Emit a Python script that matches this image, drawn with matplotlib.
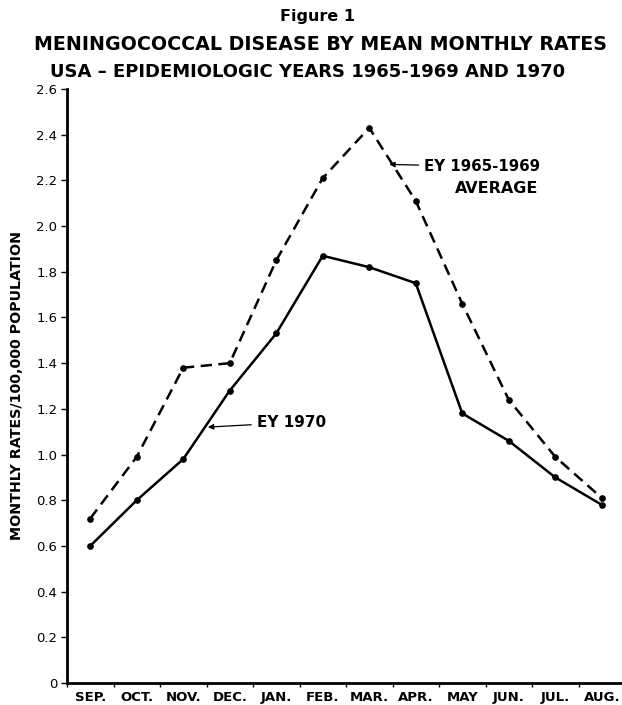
import matplotlib
matplotlib.use("Agg")
import matplotlib.pyplot as plt
import numpy as np

months = ["SEP.", "OCT.", "NOV.", "DEC.", "JAN.", "FEB.", "MAR.", "APR.", "MAY", "JUN.", "JUL.", "AUG."]
avg_1965_1969 = [0.72, 0.99, 1.38, 1.40, 1.85, 2.21, 2.43, 2.11, 1.66, 1.24, 0.99, 0.81]
ey_1970 = [0.60, 0.80, 0.98, 1.28, 1.53, 1.87, 1.82, 1.75, 1.18, 1.06, 0.90, 0.78]
yticks = [0, 0.2, 0.4, 0.6, 0.8, 1.0, 1.2, 1.4, 1.6, 1.8, 2.0, 2.2, 2.4, 2.6]
ytick_labels = ["0", "0.2", "0.4", "0.6", "0.8", "1.0", "1.2", "1.4", "1.6", "1.8", "2.0", "2.2", "2.4", "2.6"]

W, H = 622, 705
fig = plt.figure(figsize=(W/100, H/100), dpi=100)
ax = fig.add_axes([67/W, 1-683/H, (625-67)/W, (683-89)/H])

x = np.arange(len(months)) + 0.5
ax.plot(x, avg_1965_1969, color="black", lw=1.8, linestyle=(0, (4.5, 2.6)),
        marker="o", markersize=3.8)
ax.plot(x, ey_1970, color="black", lw=1.8, marker="o", markersize=3.8)

ax.set_xlim(0, 12)
ax.set_ylim(0, 2.6)
ax.set_yticks(yticks)
ax.set_yticklabels(ytick_labels, fontsize=9.5, family="DejaVu Sans")
ax.set_xticks(np.arange(0, 13))
ax.set_xticklabels([])
ax.set_xticks(x, minor=True)
ax.set_xticklabels(months, minor=True, fontsize=9.5, fontweight="bold")
ax.tick_params(axis="x", which="minor", length=0, pad=6)
ax.tick_params(axis="x", which="major", length=3, direction="out", width=1)
ax.tick_params(axis="y", length=4, width=1, pad=3)
for s in ["top", "right"]:
    ax.spines[s].set_visible(False)
ax.spines["left"].set_linewidth(2)
ax.spines["bottom"].set_linewidth(2)

ax.set_ylabel("MONTHLY RATES/100,000 POPULATION", fontsize=10.3, fontweight="bold", labelpad=9)

fig.text(317/W, 1-16/H, "Figure 1", ha="center", va="center", fontsize=11.5, fontweight="bold")
fig.text(321/W, 1-45/H, "MENINGOCOCCAL DISEASE BY MEAN MONTHLY RATES", ha="center", va="center",
         fontsize=13.7, fontweight="bold")
fig.text(308/W, 1-72/H, "USA \u2013 EPIDEMIOLOGIC YEARS 1965-1969 AND 1970", ha="center", va="center",
         fontsize=13, fontweight="bold")

ax.annotate("EY 1965-1969", xy=(6.93, 2.27), xytext=(7.68, 2.26),
            fontsize=10.8, fontweight="bold", va="center", ha="left",
            arrowprops=dict(arrowstyle="-|>", color="black", lw=0.9, mutation_scale=8,
                            shrinkA=2, shrinkB=0))
ax.text(10.13, 2.165, "AVERAGE", fontsize=11.5, fontweight="bold", va="center", ha="right")
ax.annotate("EY 1970", xy=(3.03, 1.12), xytext=(4.08, 1.14),
            fontsize=11, fontweight="bold", va="center", ha="left",
            arrowprops=dict(arrowstyle="-|>", color="black", lw=0.9, mutation_scale=8,
                            shrinkA=2, shrinkB=0))

fig.savefig("out.png", dpi=100)
